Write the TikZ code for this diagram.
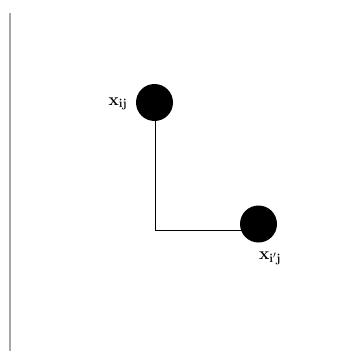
\documentclass[tikz,border=0pt]{standalone}
\begin{document}
\begin{tikzpicture}[x=1pt,y=-1pt,
  dot/.style={circle,fill=black,minimum size=37pt,inner sep=0pt},
  lab/.style={inner sep=0pt,font=\LARGE\bfseries}]
\useasboundingbox (0,0) rectangle (349,351);
\draw[gray!70,line width=1.5pt] (10,13) -- (10,351);
\node[dot] (a) at (154.5,102.5) {};
\node[dot] (b) at (258.5,224) {};
\coordinate (c) at (155,230);
\draw[line width=1pt] (c |- a.south) -- (c) -- (b.center |- c);
\node[lab] (la) at (118,104) {x$_{\mathbf{ij}}$};
\node[lab] (lb) at (270,258) {x$_{\mathbf{i'j}}$};
\end{tikzpicture}
\end{document}
